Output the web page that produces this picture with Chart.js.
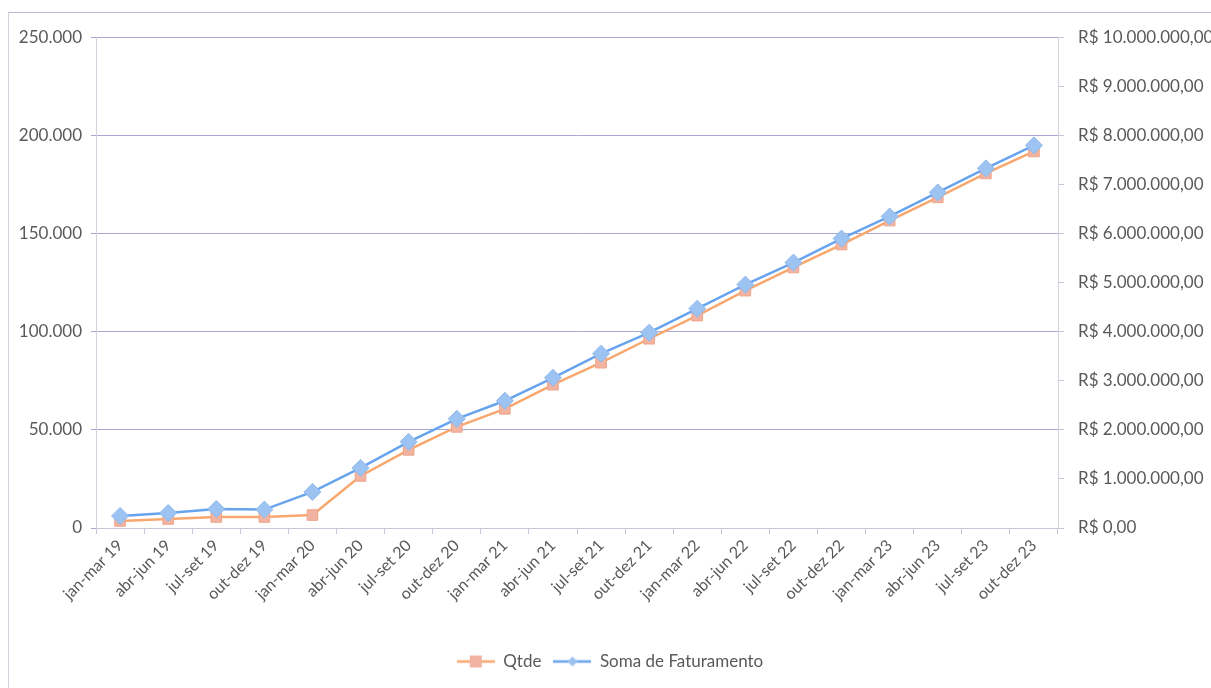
<!DOCTYPE html>
<html>
<head>
<meta charset="utf-8">
<script src="https://cdn.jsdelivr.net/npm/chart.js@4.4.1/dist/chart.umd.min.js"></script>
<style>
  html, body { margin: 0; padding: 0; background: #fff; }
  #frame {
    position: absolute; left: 8px; top: 12px; width: 1210px; height: 680px;
    border-top: 1px solid #b8bccb; border-left: 1px solid #d0d3dc;
  }
  #wrap { position: absolute; left: 9px; top: 13px; width: 1202px; height: 675px; }
</style>
</head>
<body>
<div id="frame"></div>
<div id="wrap"><canvas id="chart"></canvas></div>
<script>
// trimestres
const labels = [
  "jan-mar 19", "abr-jun 19", "jul-set 19", "out-dez 19",
  "jan-mar 20", "abr-jun 20", "jul-set 20", "out-dez 20",
  "jan-mar 21", "abr-jun 21", "jul-set 21", "out-dez 21",
  "jan-mar 22", "abr-jun 22", "jul-set 22", "out-dez 22",
  "jan-mar 23", "abr-jun 23", "jul-set 23", "out-dez 23"
];

// eixo esquerdo
const qtde = [
  3600, 4600, 5600, 5600, 6600, 26500, 39800, 51500, 60700, 73000,
  84200, 96400, 108200, 120900, 132700, 144400, 156600, 168400, 180600, 191800
];

// eixo direito (R$)
const faturamento = [
  245000, 306000, 388000, 375000, 735000, 1224000, 1755000, 2224000, 2592000, 3061000,
  3551000, 3980000, 4469000, 4959000, 5408000, 5898000, 6347000, 6837000, 7327000, 7796000
];

const leftTicks = [0, 50000, 100000, 150000, 200000, 250000];

const orangeLine = "#f8a86e";
const orangeFill = "#f2b3a0";
const blueLine = "#68a4ee";
const blueFill = "#9cc3f2";
const textColor = "#595959";
const fontFamily = "Lato";

function fmtLeft(v) {
  return v.toLocaleString("pt-BR");
}
function fmtBRL(v) {
  return "R$ " + v.toLocaleString("pt-BR", { minimumFractionDigits: 2, maximumFractionDigits: 2 });
}

// legend icon: line with marker, like excel
function legendIcon(lineColor, fillColor, shape) {
  const c = document.createElement("canvas");
  c.width = 38; c.height = 16;
  const g = c.getContext("2d");
  g.strokeStyle = lineColor;
  g.lineWidth = 2.5;
  g.beginPath(); g.moveTo(0, 8); g.lineTo(38, 8); g.stroke();
  g.fillStyle = fillColor;
  if (shape === "rect") {
    g.fillRect(13, 2, 12, 12);
  } else {
    g.beginPath();
    g.moveTo(19, 3); g.lineTo(24, 8); g.lineTo(19, 13); g.lineTo(14, 8); g.closePath();
    g.fill();
  }
  return c;
}

const ctx = document.getElementById("chart").getContext("2d");

new Chart(ctx, {
  type: "line",
  data: {
    labels: labels,
    datasets: [
      {
        label: "Qtde",
        data: qtde,
        yAxisID: "y",
        order: 1,
        borderColor: orangeLine,
        backgroundColor: orangeFill,
        borderWidth: 2.5,
        pointStyle: "rect",
        pointRadius: 7.5,
        pointBorderColor: "#eea58c",
        pointBackgroundColor: orangeFill,
        pointBorderWidth: 1,
        tension: 0
      },
      {
        label: "Soma de Faturamento",
        data: faturamento,
        yAxisID: "y1",
        order: 0,
        borderColor: blueLine,
        backgroundColor: blueFill,
        borderWidth: 2.5,
        pointStyle: "rectRot",
        pointRadius: 8.5,
        pointBorderColor: "#8fb9ee",
        pointBackgroundColor: blueFill,
        pointBorderWidth: 1,
        tension: 0
      }
    ]
  },
  options: {
    responsive: true,
    maintainAspectRatio: false,
    animation: false,
    layout: { padding: { top: 24, right: 0, bottom: 8, left: 0 } },
    plugins: {
      legend: {
        position: "bottom",
        labels: {
          color: textColor,
          font: { family: fontFamily, size: 17 },
          usePointStyle: true,
          pointStyleWidth: 38,
          padding: 12,
          sort: (a, b) => a.datasetIndex - b.datasetIndex,
          generateLabels: function(chart) {
            return chart.data.datasets.map((ds, i) => ({
              text: ds.label,
              fillStyle: ds.backgroundColor,
              strokeStyle: ds.borderColor,
              lineWidth: 0,
              hidden: !chart.isDatasetVisible(i),
              datasetIndex: i,
              fontColor: textColor,
              pointStyle: i === 0
                ? legendIcon(orangeLine, orangeFill, "rect")
                : legendIcon(blueLine, blueFill, "diamond")
            }));
          }
        }
      },
      tooltip: { enabled: true }
    },
    scales: {
      x: {
        offset: true,
        grid: {
          offset: true,
          drawOnChartArea: false,
          color: "#c4c7d6",
          tickLength: 6
        },
        border: { color: "#c4c7d6" },
        ticks: {
          color: textColor,
          font: { family: fontFamily, size: 16 },
          minRotation: 45,
          maxRotation: 45,
          autoSkip: false,
          padding: 2
        },
        afterFit: function(scale) { scale.height = 113; }
      },
      y: {
        position: "left",
        min: 0,
        max: 250000,
        afterBuildTicks: function(scale) {
          scale.ticks = leftTicks.map(v => ({ value: v }));
        },
        grid: {
          color: "#a6a8d2",
          lineWidth: 1,
          tickLength: 5
        },
        border: { color: "#d0d2de" },
        ticks: {
          color: textColor,
          font: { family: fontFamily, size: 17 },
          padding: 9,
          callback: v => fmtLeft(v)
        },
        afterFit: function(scale) { scale.width = 87; }
      },
      y1: {
        position: "right",
        min: 0,
        max: 10000000,
        grid: {
          drawOnChartArea: false,
          color: "#c4c7d6",
          tickLength: 6
        },
        border: { color: "#d0d2de" },
        ticks: {
          stepSize: 1000000,
          color: textColor,
          font: { family: fontFamily, size: 17 },
          padding: 14,
          callback: v => fmtBRL(v)
        },
        afterFit: function(scale) { scale.width = 153; }
      }
    }
  }
});
</script>
</body>
</html>
